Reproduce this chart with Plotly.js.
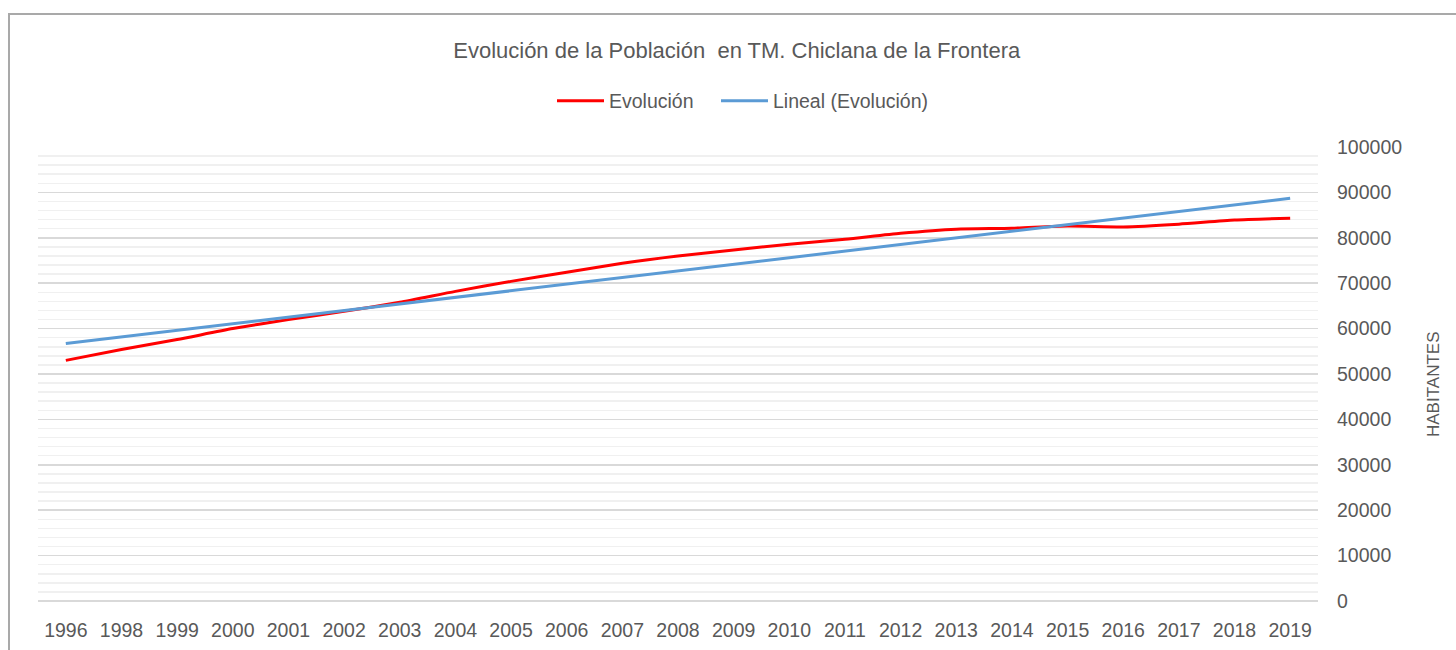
<!DOCTYPE html>
<html>
<head>
<meta charset="utf-8">
<script src="https://cdn.plot.ly/plotly-3.0.1.min.js"></script>
<style>
  html, body { margin: 0; padding: 0; background: #ffffff; }
  #frame { position: absolute; left: 8px; top: 13px; width: 1460px; height: 660px;
           border-top: 2px solid #a9a9a9; border-left: 2px solid #a9a9a9; }
  #chart { position: absolute; left: 0; top: 0; width: 1456px; height: 650px; }
</style>
</head>
<body>
<div id="frame"></div>
<div id="chart"></div>
<script>
const years = ['1996','1998','1999','2000','2001','2002','2003','2004','2005','2006','2007','2008',
               '2009','2010','2011','2012','2013','2014','2015','2016','2017','2018','2019'];
const evolucion = [53000, 55400, 57600, 60000, 62000, 63800, 65800, 68200, 70400, 72400, 74400, 76000,
                   77300, 78600, 79700, 81000, 81900, 82100, 82600, 82400, 83000, 83900, 84300];
const trendYears = ['1996', '2019'];
const trendValues = [56700, 88700];
const yTicks = [0, 10000, 20000, 30000, 40000, 50000, 60000, 70000, 80000, 90000, 100000];

const grey = '#595959';
const data = [
  { x: years, y: evolucion, type: 'scatter', mode: 'lines', name: 'Evolución', legend: 'legend',
    line: { color: '#ff0000', width: 3, shape: 'spline', smoothing: 0.6 } },
  { x: trendYears, y: trendValues, type: 'scatter', mode: 'lines', name: 'Lineal (Evolución)', legend: 'legend2',
    line: { color: '#5b9bd5', width: 3 } }
];

const legendFont = { family: 'Liberation Sans, sans-serif', size: 19.5, color: grey };
const layout = {
  width: 1456, height: 650,
  margin: { l: 38, r: 138, t: 147, b: 49 },
  paper_bgcolor: 'rgba(0,0,0,0)', plot_bgcolor: 'rgba(0,0,0,0)',
  font: { family: 'Liberation Sans, sans-serif', color: grey },
  title: { text: 'Evolución de la Población  en TM. Chiclana de la Frontera',
           xref: 'container', x: 0.506, xanchor: 'center', yref: 'container', y: 1 - 50/650, yanchor: 'middle',
           font: { family: 'Liberation Sans, sans-serif', size: 22, color: grey } },
  showlegend: true,
  legend: { orientation: 'h', xref: 'paper', x: (560 - 8 - 38) / 1280, xanchor: 'left',
            y: (601 - 101) / 454, yanchor: 'middle', itemwidth: 47,
            font: legendFont, bgcolor: 'rgba(0,0,0,0)' },
  legend2: { orientation: 'h', xref: 'paper', x: (560 + 164 - 8 - 38) / 1280, xanchor: 'left',
            y: (601 - 101) / 454, yanchor: 'middle', itemwidth: 47,
            font: legendFont, bgcolor: 'rgba(0,0,0,0)' },
  xaxis: { type: 'category', categoryorder: 'array', categoryarray: years,
           range: [-0.5, years.length - 0.5],
           showgrid: false, zeroline: false, showline: false, ticks: '',
           ticklabelstandoff: 15,
           tickfont: { family: 'Liberation Sans, sans-serif', size: 19.5, color: grey },
           fixedrange: true },
  yaxis: { side: 'right', range: [0, 100000], tickvals: yTicks, ticktext: yTicks.map(String),
           showgrid: true, gridcolor: '#d9d9d9', gridwidth: 1.5,
           zeroline: true, zerolinecolor: '#d9d9d9', zerolinewidth: 1.5,
           showline: false, ticks: '', ticklabelstandoff: 18,
           minor: { dtick: 2000, tick0: 0, showgrid: true, gridcolor: '#f0f0f0', gridwidth: 1.5, ticks: '' },
           tickfont: { family: 'Liberation Sans, sans-serif', size: 19.5, color: grey },
           fixedrange: true },
  annotations: [
    { text: 'HABITANTES', xref: 'paper', yref: 'paper',
      x: (1433 - 38) / 1280, y: (601 - 385) / 454, xanchor: 'center', yanchor: 'middle',
      textangle: -90, showarrow: false,
      font: { family: 'Liberation Sans, sans-serif', size: 17, color: grey } }
  ]
};

Plotly.newPlot('chart', data, layout, { displayModeBar: false, staticPlot: true });
</script>
</body>
</html>
